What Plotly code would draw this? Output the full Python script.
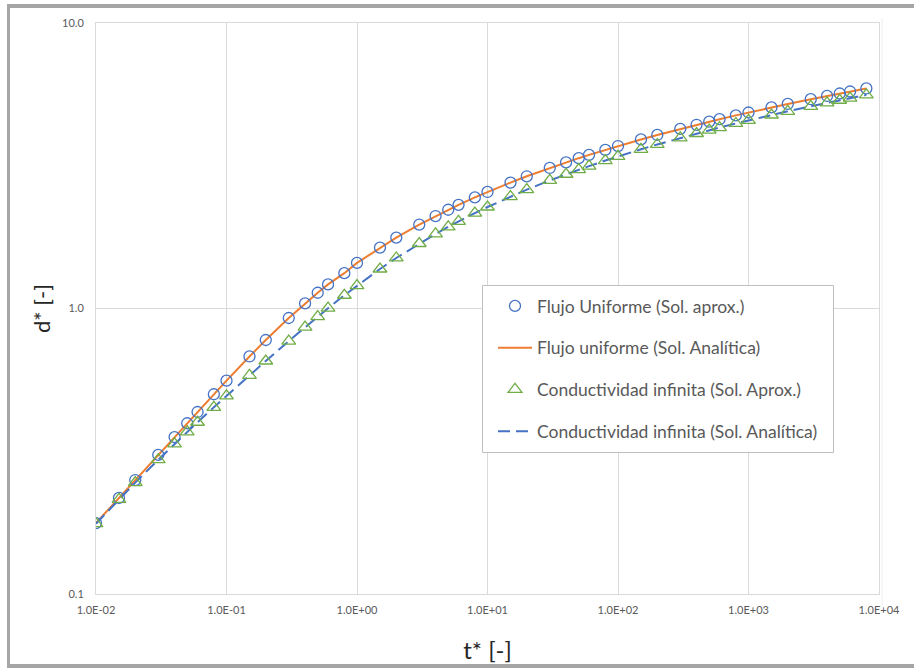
import plotly.graph_objects as go

# ---- data ----
t_star = [0.01, 0.015, 0.02, 0.03, 0.04, 0.05, 0.06, 0.08,
          0.1, 0.15, 0.2, 0.3, 0.4, 0.5, 0.6, 0.8,
          1, 1.5, 2, 3, 4, 5, 6, 8,
          10, 15, 20, 30, 40, 50, 60, 80,
          100, 150, 200, 300, 400, 500, 600, 800,
          1000, 1500, 2000, 3000, 4000, 5000, 6000, 8000]

d_uniforme_aprox = [0.1772, 0.2171, 0.2507, 0.3070, 0.3545, 0.3963, 0.4340, 0.5007,
                    0.5587, 0.6793, 0.7755, 0.9261, 1.0418, 1.1355, 1.2146, 1.3295,
                    1.4447, 1.6344, 1.7716, 1.9676, 2.1080, 2.2175, 2.3073, 2.4495,
                    2.5599, 2.7613, 2.9045, 3.1065, 3.2500, 3.3614, 3.4524, 3.5961,
                    3.7075, 3.9101, 4.0539, 4.2565, 4.4003, 4.5118, 4.6030, 4.7469,
                    4.8584, 5.0612, 5.2050, 5.4077, 5.5516, 5.6631, 5.7543, 5.8981]

d_uniforme_analitica = [0.1772, 0.2171, 0.2507, 0.3070, 0.3545, 0.3963, 0.4340, 0.5007,
                        0.5587, 0.6793, 0.7755, 0.9261, 1.0418, 1.1355, 1.2146, 1.3295,
                        1.4447, 1.6344, 1.7716, 1.9676, 2.1080, 2.2175, 2.3073, 2.4495,
                        2.5599, 2.7613, 2.9045, 3.1065, 3.2500, 3.3614, 3.4524, 3.5961,
                        3.7075, 3.9101, 4.0539, 4.2565, 4.4003, 4.5118, 4.6030, 4.7469,
                        4.8584, 5.0612, 5.2050, 5.4077, 5.5516, 5.6631, 5.7543, 5.8981]

d_infinita_aprox = [0.1763, 0.2145, 0.2455, 0.2954, 0.3355, 0.3696, 0.3995, 0.4508,
                    0.4944, 0.5832, 0.6548, 0.7690, 0.8601, 0.9365, 1.0025, 1.1127,
                    1.2028, 1.3753, 1.5031, 1.6894, 1.8247, 1.9311, 2.0188, 2.1583,
                    2.2672, 2.4664, 2.6084, 2.8093, 2.9523, 3.0633, 3.1541, 3.2975,
                    3.4088, 3.6112, 3.7548, 3.9574, 4.1011, 4.2126, 4.3036, 4.4475,
                    4.5591, 4.7617, 4.9056, 5.1083, 5.2521, 5.3637, 5.4549, 5.5987]

d_infinita_analitica = [0.1763, 0.2145, 0.2455, 0.2954, 0.3355, 0.3696, 0.3995, 0.4508,
                        0.4944, 0.5832, 0.6548, 0.7690, 0.8601, 0.9365, 1.0025, 1.1127,
                        1.2028, 1.3753, 1.5031, 1.6894, 1.8247, 1.9311, 2.0188, 2.1583,
                        2.2672, 2.4664, 2.6084, 2.8093, 2.9523, 3.0633, 3.1541, 3.2975,
                        3.4088, 3.6112, 3.7548, 3.9574, 4.1011, 4.2126, 4.3036, 4.4475,
                        4.5591, 4.7617, 4.9056, 5.1083, 5.2521, 5.3637, 5.4549, 5.5987]

x_tick_vals = [0.01, 0.1, 1, 10, 100, 1000, 10000]
x_tick_text = ["1.0E-02", "1.0E-01", "1.0E+00", "1.0E+01", "1.0E+02", "1.0E+03", "1.0E+04"]
y_tick_vals = [0.1, 1, 10]
y_tick_text = ["0.1", "1.0", "10.0"]

series_names = ["Flujo Uniforme (Sol. aprox.)",
                "Flujo uniforme (Sol. Analítica)",
                "Conductividad infinita (Sol. Aprox.)",
                "Conductividad infinita (Sol. Analítica)"]

BLUE = "#4472C4"
ORANGE = "#ED7D31"
GREEN = "#70AD47"
FONT = "Lato"

fig = go.Figure()
fig.add_trace(go.Scatter(x=t_star, y=d_uniforme_analitica, mode="lines",
                         name=series_names[1], legendgroup="b", legendrank=2,
                         line=dict(color=ORANGE, width=2)))
fig.add_trace(go.Scatter(x=t_star, y=d_infinita_analitica, mode="lines",
                         name=series_names[3], legendgroup="d", legendrank=4,
                         line=dict(color=BLUE, width=2, dash="12px,6px")))
fig.add_trace(go.Scatter(x=t_star, y=d_uniforme_aprox, mode="markers",
                         name=series_names[0], legendgroup="a", legendrank=1,
                         marker=dict(symbol="circle-open", size=11,
                                     line=dict(color=BLUE, width=1.3), color=BLUE)))
fig.add_trace(go.Scatter(x=t_star, y=d_infinita_aprox, mode="markers",
                         name=series_names[2], legendgroup="c", legendrank=3,
                         marker=dict(symbol="triangle-up-open", size=12,
                                     line=dict(color=GREEN, width=1.3), color=GREEN)))

# plot area in pixels: left 96, right 879, top 23, bottom 594
L, R, T, B = 96, 879, 23, 594
W, H = 914, 668
def px(x):
    return (x - L) / (R - L)
def py(y):
    return (B - y) / (B - T)

frame = "#A6A6A6"
shapes = [
    dict(type="rect", xref="paper", yref="paper", x0=px(7), x1=px(914), y0=py(8), y1=py(4),
         fillcolor=frame, line=dict(width=0), layer="below"),
    dict(type="rect", xref="paper", yref="paper", x0=px(7), x1=px(10), y0=py(668), y1=py(4),
         fillcolor=frame, line=dict(width=0), layer="below"),
    dict(type="rect", xref="paper", yref="paper", x0=px(7), x1=px(914), y0=py(668), y1=py(664),
         fillcolor=frame, line=dict(width=0), layer="below"),
    dict(type="line", xref="paper", yref="paper", x0=px(882), x1=px(882), y0=py(606), y1=py(18),
         line=dict(color="#EEEEEE", width=1), layer="below"),
    # legend box
    dict(type="rect", xref="paper", yref="paper", x0=px(482.5), x1=px(833.5), y0=py(452.5), y1=py(285.5),
         fillcolor="white", line=dict(color="#BFBFBF", width=1), layer="above"),
]

fig.update_layout(
    width=W, height=H,
    margin=dict(l=L, r=W - R, t=T, b=H - B),
    paper_bgcolor="white", plot_bgcolor="white",
    font=dict(family=FONT, color="#595959"),
    showlegend=True,
    legend=dict(x=px(493), y=py(288), xanchor="left", yanchor="top",
                bgcolor="rgba(0,0,0,0)", borderwidth=0,
                font=dict(size=17.5, color="#595959", family=FONT),
                tracegroupgap=16, itemwidth=34),
    shapes=shapes,
)
fig.update_xaxes(type="log", range=[-2, 4], tickvals=x_tick_vals, ticktext=x_tick_text,
                 tickfont=dict(size=11, color="#595959", family=FONT),
                 showgrid=True, gridcolor="#D9D9D9", gridwidth=1,
                 showline=True, linecolor="#D9D9D9", linewidth=1, mirror=True,
                 ticks="", zeroline=False, ticklabelstandoff=6, automargin=False,
                 title=dict(text="t* [-]", font=dict(size=24, color="#262626", family=FONT),
                            standoff=26))
fig.update_yaxes(type="log", range=[-1, 1], tickvals=y_tick_vals, ticktext=y_tick_text,
                 tickfont=dict(size=11, color="#595959", family=FONT),
                 showgrid=True, gridcolor="#D9D9D9", gridwidth=1,
                 showline=True, linecolor="#D9D9D9", linewidth=1, mirror=True,
                 ticks="", zeroline=False, ticklabelstandoff=9, automargin=False,
                 title=dict(text="d* [-]", font=dict(size=22, color="#262626", family=FONT),
                            standoff=5))

fig.write_html("out.html")
